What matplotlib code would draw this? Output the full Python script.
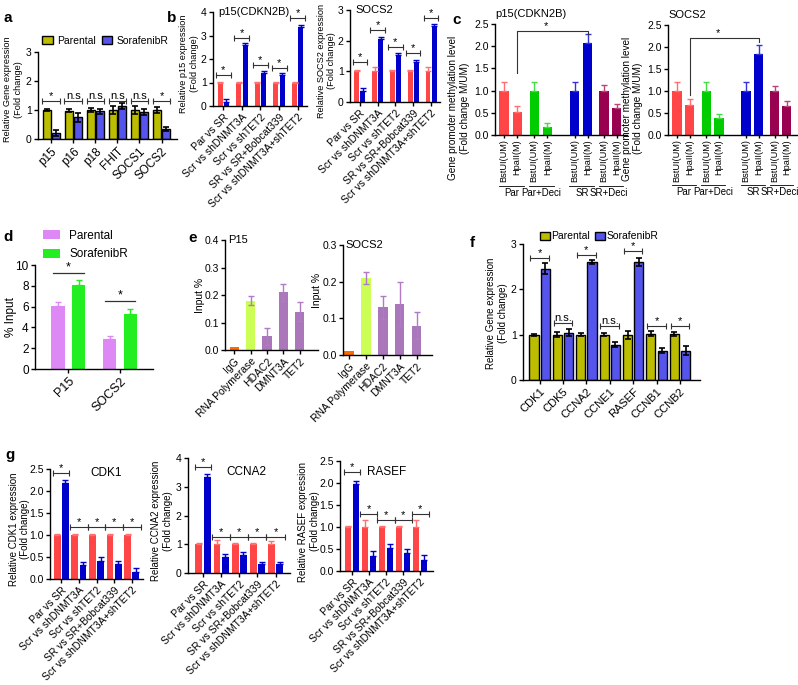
import numpy as np
import matplotlib.pyplot as plt
from matplotlib.patches import Patch

plt.rcParams['font.family'] = ['Liberation Sans', 'DejaVu Sans']
plt.rcParams['font.size'] = 7.5
plt.rcParams['axes.linewidth'] = 1.0

W, H = 798, 685

# ---- panel a: gene panel, parental vs sorafenib resistant
a_genes = ['p15', 'p16', 'p18', 'FHIT', 'SOCS1', 'SOCS2']
a_par = [1.0, 0.97, 1.0, 1.0, 1.0, 1.0]
a_par_err = [0.03, 0.05, 0.06, 0.15, 0.15, 0.1]
a_sor = [0.2, 0.75, 0.95, 1.15, 0.93, 0.35]
a_sor_err = [0.1, 0.15, 0.1, 0.1, 0.1, 0.08]
a_sig = ['*', 'n.s', 'n.s', 'n.s', 'n.s', '*']
a_sig_y = [1.32, 1.32, 1.32, 1.32, 1.32, 1.32]

# ---- panel b: knockdown comparisons
b_groups = ['Par vs SR', 'Scr vs shDNMT3A', 'Scr vs shTET2',
            'SR vs SR+Bobcat339', 'Scr vs shDNMT3A+shTET2']
b_p15_ctrl = [1.0, 1.0, 1.0, 1.0, 1.0]
b_p15_ctrl_err = [0.02, 0.02, 0.02, 0.02, 0.02]
b_p15_trt = [0.18, 2.6, 1.4, 1.32, 3.35]
b_p15_trt_err = [0.1, 0.08, 0.1, 0.1, 0.08]
b_p15_sig_y = [1.3, 2.9, 1.75, 1.62, 3.75]
b_socs_ctrl = [1.0, 1.0, 1.0, 1.0, 1.0]
b_socs_ctrl_err = [0.03, 0.15, 0.03, 0.03, 0.15]
b_socs_trt = [0.37, 2.05, 1.52, 1.3, 2.47]
b_socs_trt_err = [0.08, 0.08, 0.08, 0.08, 0.08]
b_socs_sig_y = [1.3, 2.35, 1.8, 1.6, 2.75]

# ---- panel c: promoter methylation
c_ticks = ['BstUI(UM)', 'HpaII(M)'] * 4
c_groups = ['Par', 'Par+Deci', 'SR', 'SR+Deci']
c_p15 = [1.0, 0.52, 1.0, 0.18, 1.0, 2.08, 1.0, 0.6]
c_p15_err = [0.2, 0.13, 0.2, 0.09, 0.2, 0.2, 0.12, 0.1]
c_socs = [1.0, 0.68, 1.0, 0.38, 1.0, 1.85, 1.0, 0.67]
c_socs_err = [0.2, 0.14, 0.2, 0.1, 0.2, 0.2, 0.12, 0.1]

# ---- panel d: ChIP % input
d_genes = ['P15', 'SOCS2']
d_par = [6.1, 2.9]
d_par_err = [0.35, 0.3]
d_sor = [8.1, 5.3]
d_sor_err = [0.5, 0.45]
d_sig_y = [9.2, 6.5]

# ---- panel e: ChIP by antibody
e_ab = ['IgG', 'RNA Polymerase', 'HDAC2', 'DMNT3A', 'TET2']
e_p15 = [0.01, 0.18, 0.05, 0.21, 0.14]
e_p15_err = [0.0, 0.017, 0.03, 0.03, 0.036]
e_socs = [0.01, 0.21, 0.13, 0.14, 0.08]
e_socs_err = [0.0, 0.016, 0.031, 0.06, 0.037]

# ---- panel f: cell-cycle genes
f_genes = ['CDK1', 'CDK5', 'CCNA2', 'CCNE1', 'RASEF', 'CCNB1', 'CCNB2']
f_par = [1.0, 1.0, 1.0, 1.0, 0.99, 1.02, 1.01]
f_par_err = [0.02, 0.06, 0.03, 0.03, 0.08, 0.06, 0.04]
f_sor = [2.45, 1.04, 2.6, 0.78, 2.6, 0.65, 0.65]
f_sor_err = [0.12, 0.08, 0.04, 0.05, 0.09, 0.05, 0.09]
f_sig = ['*', 'n.s.', '*', 'n.s.', '*', '*', '*']
f_sig_y = [2.7, 1.25, 2.75, 1.2, 2.85, 1.2, 1.2]

# ---- panel g: cell-cycle genes after knockdowns
g_cdk1_trt = [2.18, 0.32, 0.4, 0.33, 0.16]
g_cdk1_trt_err = [0.08, 0.07, 0.09, 0.08, 0.08]
g_cdk1_ctrl_err = [0.03, 0.03, 0.03, 0.03, 0.03]
g_cdk1_sig_y = [2.4, 1.18, 1.18, 1.18, 1.18]
g_ccna2_trt = [3.35, 0.55, 0.62, 0.3, 0.3]
g_ccna2_trt_err = [0.1, 0.1, 0.1, 0.1, 0.08]
g_ccna2_ctrl_err = [0.05, 0.15, 0.03, 0.03, 0.12]
g_ccna2_sig_y = [3.7, 1.25, 1.25, 1.25, 1.25]
g_rasef_trt = [1.97, 0.35, 0.52, 0.4, 0.26]
g_rasef_trt_err = [0.08, 0.1, 0.1, 0.1, 0.1]
g_rasef_ctrl_err = [0.03, 0.15, 0.03, 0.03, 0.15]
g_rasef_sig_y = [2.25, 1.3, 1.15, 1.15, 1.3]
g_ctrl = [1.0, 1.0, 1.0, 1.0, 1.0]

OLIVE = '#bdbd00'
MBLUE = '#5555ee'
RED = '#ff4545'
LRED = '#ff7070'
DBLUE = '#0000cc'
GREEN = '#00cc00'
MAROON = '#990050'


def px_axes(fig, x0, y0, x1, y1):
    return fig.add_axes([x0 / W, 1 - y1 / H, (x1 - x0) / W, (y1 - y0) / H])


def clean(ax):
    ax.spines['top'].set_visible(False)
    ax.spines['right'].set_visible(False)
    ax.tick_params(length=3, width=1, pad=1.5, labelsize=7.5)


def sig(ax, x0, x1, y, label, color='#333333', fs=8):
    ax.plot([x0, x1], [y, y], color=color, lw=0.8, clip_on=False)
    ax.plot([x0, x1], [y, y], ls='none', marker='|', ms=4, mew=0.8,
            color=color, clip_on=False)
    ax.text((x0 + x1) / 2, y, label, ha='center', va='bottom', fontsize=fs,
            clip_on=False)


def ylab(ax, text, x, y=0.5, fs=7):
    ax.set_ylabel(text, fontsize=fs)
    ax.yaxis.set_label_coords(x, y)


def rot_labels(ax, pos, labels, rot=45):
    ax.set_xticks(pos)
    ax.set_xticklabels(labels, rotation=rot, ha='right', rotation_mode='anchor')


def up(err):
    return [np.zeros(len(err)), err]


def pair_black(ax, vals1, err1, vals2, err2, w, off):
    x = np.arange(len(vals1))
    kw = dict(ecolor='black', capsize=2.5, elinewidth=1.2, capthick=1.2)
    ax.bar(x - off, vals1, w, yerr=err1, color=OLIVE, edgecolor='black',
           lw=1, error_kw=kw)
    ax.bar(x + off, vals2, w, yerr=err2, color=MBLUE, edgecolor='black',
           lw=1, error_kw=kw)
    return x


def pair_redblue(ax, ctrl, ctrl_err, trt, trt_err, w, off):
    x = np.arange(len(ctrl))
    ax.bar(x - off, ctrl, w, yerr=up(ctrl_err), color=RED,
           error_kw=dict(ecolor=LRED, capsize=2, elinewidth=1))
    ax.bar(x + off, trt, w, yerr=up(trt_err), color=DBLUE,
           error_kw=dict(ecolor=DBLUE, capsize=2, elinewidth=1))
    return x


fig = plt.figure(figsize=(W / 100, H / 100), dpi=100)

# ---------------- a
ax = px_axes(fig, 38, 52, 177, 139)
clean(ax)
x = pair_black(ax, a_par, a_par_err, a_sor, a_sor_err, 0.36, 0.21)
for i in range(len(x)):
    sig(ax, x[i] - 0.4, x[i] + 0.4, a_sig_y[i], a_sig[i])
ax.set_ylim(0, 3)
ax.set_yticks([0, 1, 2, 3])
ax.set_xlim(-0.6, 5.7)
rot_labels(ax, x, a_genes)
ax.tick_params(axis='x', labelsize=8.5)
ylab(ax, 'Relative Gene expression\n(Fold change)', -0.11, 0.57, fs=6.6)
ax.legend(handles=[Patch(fc=OLIVE, ec='black', label='Parental'),
                   Patch(fc=MBLUE, ec='black', label='SorafenibR')],
          loc='lower left', bbox_to_anchor=(0.0, 1.02), ncol=2,
          frameon=False, fontsize=7.5, handlelength=1.0, handleheight=0.8,
          handletextpad=0.4, columnspacing=0.6, borderaxespad=0)

# ---------------- b
for box, ctrl, ce, trt, te, sy, ymax, title, yl, lx in [
        ((213, 12, 307, 106), b_p15_ctrl, b_p15_ctrl_err, b_p15_trt,
         b_p15_trt_err, b_p15_sig_y, 4, 'p15(CDKN2B)',
         'Relative p15 expression\n(Fold change)', -0.15),
        ((350, 10, 440, 102), b_socs_ctrl, b_socs_ctrl_err, b_socs_trt,
         b_socs_trt_err, b_socs_sig_y, 3, 'SOCS2',
         'Relative SOCS2 expression\n(Fold change)', -0.15)]:
    ax = px_axes(fig, *box)
    clean(ax)
    x = pair_redblue(ax, ctrl, ce, trt, te, 0.27, 0.17)
    for i in range(len(x)):
        sig(ax, x[i] - 0.4, x[i] + 0.4, sy[i], '*')
    ax.set_ylim(0, ymax)
    ax.set_yticks(range(ymax + 1))
    ax.set_xlim(-0.55, 4.5)
    rot_labels(ax, x, b_groups)
    ylab(ax, yl, lx, 0.45, fs=6.6)
    ax.text(0.06, 1.0, title, transform=ax.transAxes, fontsize=8,
            va='center', ha='left')

# ---------------- c
c_pos = np.array([0, 1, 2.3, 3.3, 5.4, 6.4, 7.65, 8.6])
c_cols = [RED, RED, GREEN, GREEN, DBLUE, DBLUE, MAROON, MAROON]
c_ecols = ['#ff6f6f', '#ff6f6f', '#44dd44', '#44dd44', '#3333dd', '#3333dd',
           '#bb4477', '#bb4477']
for box, vals, errs, title, br in [
        ((495, 24, 627, 135), c_p15, c_p15_err, 'p15(CDKN2B)', (1.4, 2.35)),
        ((668, 25, 797, 135), c_socs, c_socs_err, 'SOCS2', (0.92, 2.2))]:
    ax = px_axes(fig, *box)
    clean(ax)
    for p, v, e, col, ec in zip(c_pos, vals, errs, c_cols, c_ecols):
        ax.bar(p, v, 0.72, yerr=[[0], [e]], color=col,
               error_kw=dict(ecolor=ec, capsize=2.5, elinewidth=1))
    ax.set_ylim(0, 2.5)
    ax.set_yticks([0, 0.5, 1.0, 1.5, 2.0, 2.5])
    ax.set_yticklabels(['0.0', '0.5', '1.0', '1.5', '2.0', '2.5'])
    ax.set_xlim(-0.7, 9.4)
    ax.set_xticks(c_pos)
    ax.set_xticklabels(c_ticks, rotation=90)
    ax.tick_params(axis='x', labelsize=6.6, length=2, pad=1)
    ylab(ax, 'Gene promoter methylation level\n(Fold change M/UM)', -0.19,
         0.24, fs=7.2)
    ax.text(0.0, 1.09, title, transform=ax.transAxes, fontsize=8,
            va='center', ha='left')
    trans = ax.get_xaxis_transform()
    for k, g in enumerate(c_groups):
        g0, g1 = c_pos[2 * k] - 0.4, c_pos[2 * k + 1] + 0.5
        ax.plot([g0, g1], [-0.455, -0.455], color='black', lw=0.6,
                transform=trans, clip_on=False)
        ax.text((g0 + g1) / 2 - 0.15 * (k == 3), -0.475, g, transform=trans,
                ha='center', va='top', fontsize=6.9)
    xa, xb = c_pos[1], c_pos[5]
    ax.plot([xa, xa, xb, xb], [br[0], br[1], br[1], br[1] - 0.08],
            color='#333333', lw=0.8)
    ax.text((xa + xb) / 2 - 0.5, br[1], '*', ha='center', va='bottom',
            fontsize=8)

# ---------------- d
ax = px_axes(fig, 35, 265, 153, 369)
clean(ax)
x = np.arange(len(d_genes))
ax.bar(x - 0.2, d_par, 0.26, yerr=up(d_par_err), color='#dd88f5',
       error_kw=dict(ecolor='#dd88f5', capsize=2.5, elinewidth=1))
ax.bar(x + 0.2, d_sor, 0.26, yerr=up(d_sor_err), color='#22ee22',
       error_kw=dict(ecolor='#22ee22', capsize=2.5, elinewidth=1))
for i in range(len(x)):
    ax.plot([x[i] - 0.3, x[i] + 0.3], [d_sig_y[i]] * 2, color='#333333',
            lw=0.9)
    ax.text(x[i], d_sig_y[i], '*', ha='center', va='bottom', fontsize=9)
ax.set_ylim(0, 10)
ax.set_yticks([0, 2, 4, 6, 8, 10])
ax.set_xlim(-0.65, 1.64)
rot_labels(ax, x, d_genes)
ax.tick_params(axis='x', labelsize=9)
ax.tick_params(axis='y', labelsize=8.5)
ylab(ax, '% Input', -0.15, 0.5, fs=8.5)
ax.legend(handles=[Patch(fc='#dd88f5', label='Parental'),
                   Patch(fc='#22ee22', label='SorafenibR')],
          loc='lower left', bbox_to_anchor=(0.03, 1.0), ncol=1,
          frameon=False, fontsize=8.5, handlelength=1.4, handleheight=0.8,
          handletextpad=0.8, borderaxespad=0, labelspacing=0.55)

# ---------------- e
e_cols = ['#ff6a00', '#ccff55', '#aa77bb', '#aa77bb', '#aa77bb']
for box, vals, errs, ymax, ticks, title, xl, lx, ly in [
        ((225, 240, 318, 350), e_p15, e_p15_err, 0.4,
         [0, 0.1, 0.2, 0.3, 0.4], 'P15', (-0.55, 5.1), -0.21, 0.5),
        ((343, 245, 432, 355), e_socs, e_socs_err, 0.3,
         [0, 0.1, 0.2, 0.3], 'SOCS2', (-0.35, 4.9), -0.235, 0.59)]:
    ax = px_axes(fig, *box)
    clean(ax)
    x = np.arange(len(e_ab))
    ax.bar(x, vals, 0.55, color=e_cols)
    ax.errorbar(x[1:], vals[1:], yerr=errs[1:], fmt='none', ecolor='#b07ac4',
                capsize=2.5, elinewidth=1)
    ax.set_ylim(0, ymax)
    ax.set_yticks(ticks)
    ax.set_yticklabels(['%.1f' % t for t in ticks])
    ax.set_xlim(*xl)
    rot_labels(ax, x, e_ab)
    ylab(ax, 'Input %', lx, ly, fs=7.5)
    ax.text(0.03, 1.0, title, transform=ax.transAxes, fontsize=8,
            va='center', ha='left')

# ---------------- f
ax = px_axes(fig, 523, 244, 700, 380)
clean(ax)
x = pair_black(ax, f_par, f_par_err, f_sor, f_sor_err, 0.39, 0.24)
for i in range(len(x)):
    sig(ax, x[i] - 0.4, x[i] + 0.4, f_sig_y[i], f_sig[i])
ax.set_ylim(0, 3)
ax.set_yticks([0, 1, 2, 3])
ax.set_xlim(-0.71, 6.86)
rot_labels(ax, x, f_genes)
ax.tick_params(axis='x', labelsize=8)
ylab(ax, 'Relative Gene expression\n(Fold change)', -0.085, 0.49, fs=7)
ax.legend(handles=[Patch(fc=OLIVE, ec='black', label='Parental'),
                   Patch(fc=MBLUE, ec='black', label='SorafenibR')],
          loc='lower left', bbox_to_anchor=(0.07, 0.99), ncol=2,
          frameon=False, fontsize=7.5, handlelength=1.0, handleheight=0.8,
          handletextpad=0.1, columnspacing=0.5, borderaxespad=0)

# ---------------- g
for box, trt, te, ce, sy, ymax, ticks, fmt, gene, xl, lx, tx, ty in [
        ((50, 469, 143, 579), g_cdk1_trt, g_cdk1_trt_err, g_cdk1_ctrl_err,
         g_cdk1_sig_y, 2.5, [0, 0.5, 1.0, 1.5, 2.0, 2.5], '%.1f', 'CDK1',
         (-0.64, 4.64), -0.21, 0.6, 0.96),
        ((188, 458, 290, 573), g_ccna2_trt, g_ccna2_trt_err, g_ccna2_ctrl_err,
         g_ccna2_sig_y, 4, [0, 1, 2, 3, 4], '%d', 'CCNA2',
         (-0.83, 4.8), -0.15, 0.57, 0.88),
        ((340, 461, 433, 571), g_rasef_trt, g_rasef_trt_err, g_rasef_ctrl_err,
         g_rasef_sig_y, 2.5, [0, 0.5, 1.0, 1.5, 2.0, 2.5], '%.1f', 'RASEF',
         (-0.7, 4.76), -0.22, 0.5, 0.9)]:
    ax = px_axes(fig, *box)
    clean(ax)
    x = pair_redblue(ax, g_ctrl, ce, trt, te, 0.38, 0.23)
    sig(ax, x[0] - 0.45, x[0] + 0.45, sy[0], '*')
    for i in range(1, len(x)):
        sig(ax, x[i] - 0.5, x[i] + 0.5, sy[i], '*')
    ax.set_ylim(0, ymax)
    ax.set_yticks(ticks)
    ax.set_yticklabels([fmt % t for t in ticks])
    ax.set_xlim(*xl)
    rot_labels(ax, x, b_groups)
    ylab(ax, 'Relative %s expression\n(Fold change)' % gene, lx, 0.45, fs=7)
    ax.text(tx, ty, gene, transform=ax.transAxes, fontsize=8.5,
            va='center', ha='center')

# panel letters
for lab, (lx, ly) in {'a': (3, 18), 'b': (167, 18), 'c': (452, 20),
                      'd': (3, 237), 'e': (188, 238), 'f': (470, 243),
                      'g': (5, 455)}.items():
    fig.text(lx / W, 1 - ly / H, lab, fontsize=11, fontweight='bold',
             va='center', ha='left')

plt.savefig('out.png', dpi=100)
